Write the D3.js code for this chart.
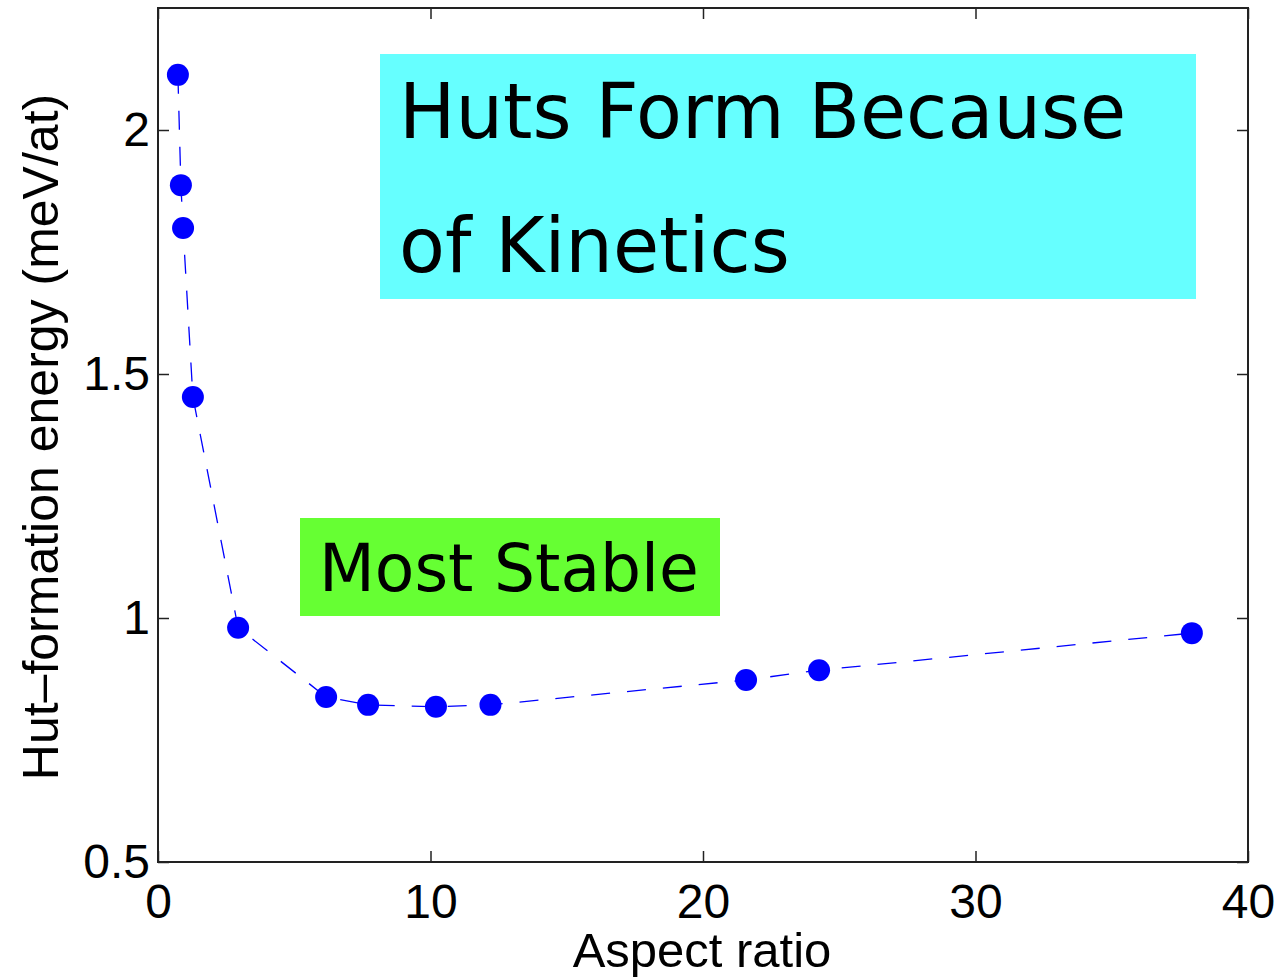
<!DOCTYPE html>
<html>
<head>
<meta charset="utf-8">
<script src="https://cdn.jsdelivr.net/npm/d3@7"></script>
<style>
  body { margin: 0; background: #fff; }
  svg { display: block; }
</style>
</head>
<body>
<div id="chart"></div>
<script>
// data
var aspectRatio = [0.73, 0.84, 0.92, 1.28, 2.94, 6.17, 7.71, 10.2, 12.2, 21.58, 24.26, 37.94];
var energy = [2.113, 1.887, 1.799, 1.453, 0.980, 0.838, 0.822, 0.818, 0.822, 0.873, 0.893, 0.969];

var xTicks = [0, 10, 20, 30, 40];
var yTicks = [0.5, 1, 1.5, 2];

var W = 1279, H = 978;
var margin = {top: 8, right: 31, bottom: 116, left: 158},
    width = W - margin.left - margin.right,
    height = H - margin.top - margin.bottom;

var svg = d3.select("#chart")
    .append("svg")
    .attr("width", W)
    .attr("height", H);

var g = svg.append("g")
    .attr("transform", "translate(" + margin.left + "," + margin.top + ")");

var x = d3.scaleLinear().domain([0, 40]).range([0, width]);
var y = d3.scaleLinear().domain([0.5, 2.25]).range([height, 0]);

var tickFont = "'Liberation Sans', Arial, Helvetica, sans-serif";
var boxFont = "'DejaVu Sans', Verdana, sans-serif";

// axes, ticks pointing inward like matlab
var xAxis = g.append("g")
    .attr("transform", "translate(0," + height + ")")
    .call(d3.axisBottom(x).tickValues(xTicks).tickSizeInner(-11).tickSizeOuter(0).tickPadding(22));
var xTop = g.append("g")
    .call(d3.axisTop(x).tickValues(xTicks).tickSizeInner(-11).tickSizeOuter(0).tickFormat(""));
var yAxis = g.append("g")
    .call(d3.axisLeft(y).tickValues(yTicks).tickSizeInner(-11).tickSizeOuter(0).tickPadding(8)
        .tickFormat(function(d) { return d === 1 || d === 2 ? d : d3.format(".1f")(d); }));
var yRight = g.append("g")
    .attr("transform", "translate(" + width + ",0)")
    .call(d3.axisRight(y).tickValues(yTicks).tickSizeInner(-11).tickSizeOuter(0).tickFormat(""));

[xAxis, xTop, yAxis, yRight].forEach(function(a) {
    a.select(".domain").remove();
    a.selectAll("line").attr("stroke", "#222").attr("stroke-width", 1.5);
    a.selectAll("text")
        .style("font-family", tickFont)
        .style("font-size", "48px")
        .attr("fill", "#000");
});
xAxis.selectAll("text").attr("dy", "0.71em");

// frame
g.append("rect")
    .attr("x", 0).attr("y", 0)
    .attr("width", width).attr("height", height)
    .attr("fill", "none")
    .attr("stroke", "#222")
    .attr("stroke-width", 2);

// annotation boxes
function boxText(tx, ty, size, str, squeeze) {
    var t = g.append("text")
        .attr("x", tx - margin.left).attr("y", ty - margin.top)
        .style("font-family", boxFont)
        .style("font-size", size + "px")
        .text(str);
    var len = t.node().getComputedTextLength();
    t.attr("textLength", len * squeeze).attr("lengthAdjust", "spacingAndGlyphs");
}

g.append("rect")
    .attr("x", 380 - margin.left).attr("y", 54 - margin.top)
    .attr("width", 816).attr("height", 245)
    .attr("fill", "#66ffff");
boxText(399, 138, 77, "Huts Form Because", 0.975);
boxText(399, 272, 77, "of Kinetics", 0.975);

g.append("rect")
    .attr("x", 300 - margin.left).attr("y", 518 - margin.top)
    .attr("width", 420).attr("height", 98)
    .attr("fill", "#66ff33");
boxText(319, 591, 66, "Most Stable", 0.98);

// dashed line + markers
var line = d3.line()
    .x(function(d, i) { return x(aspectRatio[i]); })
    .y(function(d) { return y(d); });

g.append("path")
    .datum(energy)
    .attr("d", line)
    .attr("fill", "none")
    .attr("stroke", "#0000ff")
    .attr("stroke-width", 1.3)
    .attr("stroke-dasharray", "19,17");

g.selectAll(".dot")
    .data(energy)
    .enter()
    .append("circle")
    .attr("class", "dot")
    .attr("cx", function(d, i) { return x(aspectRatio[i]); })
    .attr("cy", function(d) { return y(d); })
    .attr("r", 11)
    .attr("fill", "#0000ff");

// axis titles
svg.append("text")
    .attr("x", 702).attr("y", 967)
    .attr("text-anchor", "middle")
    .style("font-family", tickFont)
    .style("font-size", "49px")
    .text("Aspect ratio");

svg.append("text")
    .attr("transform", "translate(58,437) rotate(-90)")
    .attr("text-anchor", "middle")
    .style("font-family", tickFont)
    .style("font-size", "50px")
    .text("Hut–formation energy (meV/at)");
</script>
</body>
</html>
